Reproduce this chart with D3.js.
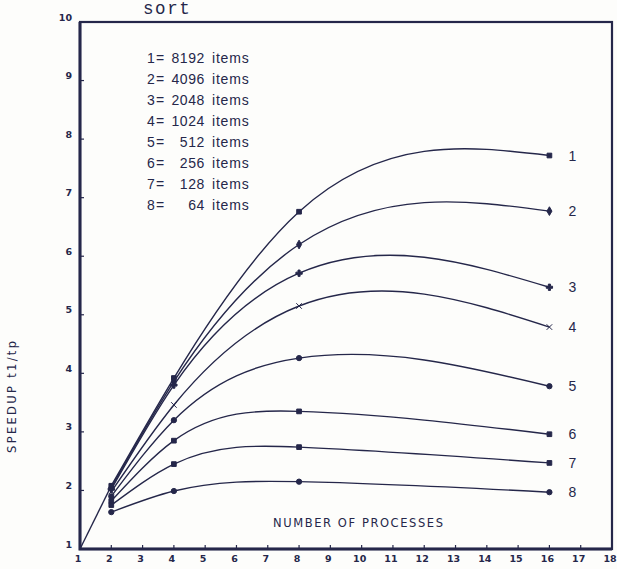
<!DOCTYPE html>
<html>
<head>
<meta charset="utf-8">
<script src="https://cdn.jsdelivr.net/npm/d3@7"></script>
<style>
  html, body { margin: 0; padding: 0; background: #fdfdfb; }
  svg { display: block; }
</style>
</head>
<body>
<svg id="chart" width="617" height="569"></svg>
<script>
// Speedup t1/tp of the sort benchmark versus number of processes
const processes = [2, 4, 8, 16];
const seriesIds = ["1", "2", "3", "4", "5", "6", "7", "8"];
const itemCounts = ["8192", "4096", "2048", "1024", "512", "256", "128", "64"];
const speedup1 = [2.08, 3.92, 6.76, 7.72];
const speedup2 = [2.05, 3.86, 6.20, 6.77];
const speedup3 = [2.02, 3.80, 5.71, 5.47];
const speedup4 = [1.98, 3.46, 5.15, 4.79];
const speedup5 = [1.90, 3.20, 4.26, 3.78];
const speedup6 = [1.82, 2.85, 3.35, 2.96];
const speedup7 = [1.75, 2.45, 2.74, 2.47];
const speedup8 = [1.63, 1.99, 2.15, 1.97];
const originPoint = [1, 1];
const xTicks = d3.range(1, 19);
const yTicks = d3.range(1, 11);

const allSpeedups = [speedup1, speedup2, speedup3, speedup4, speedup5, speedup6, speedup7, speedup8];
const markerTypes = [d3.symbolSquare, d3.symbolDiamond, d3.symbolCross, d3.symbolTimes,
                     d3.symbolCircle, d3.symbolSquare, d3.symbolSquare, d3.symbolCircle];

const ink = "#25274a";
const svg = d3.select("#chart");

const x = d3.scaleLinear().domain([1, 18]).range([80, 612]);
const y = d3.scaleLinear().domain([1, 10]).range([549, 22]);

// Natural cubic spline with y as a function of x (non-uniform knots),
// emitted as one cubic Bezier per interval.
function curveNaturalX(context) {
  let pts;
  return {
    areaStart() {}, areaEnd() {},
    lineStart() { pts = []; },
    point(px, py) { pts.push([+px, +py]); },
    lineEnd() {
      const n = pts.length;
      if (!n) return;
      context.moveTo(pts[0][0], pts[0][1]);
      if (n < 3) { for (let i = 1; i < n; i++) context.lineTo(pts[i][0], pts[i][1]); return; }
      const h = [], d = [];
      for (let i = 0; i < n - 1; i++) {
        h.push(pts[i + 1][0] - pts[i][0]);
        d.push((pts[i + 1][1] - pts[i][1]) / h[i]);
      }
      // tridiagonal solve for second derivatives, natural ends
      const M = new Array(n).fill(0);
      const a = [], b = [], c = [], r = [];
      for (let i = 1; i < n - 1; i++) {
        a.push(h[i - 1]); b.push(2 * (h[i - 1] + h[i])); c.push(h[i]);
        r.push(6 * (d[i] - d[i - 1]));
      }
      const m = b.length;
      for (let i = 1; i < m; i++) {
        const w = a[i] / b[i - 1];
        b[i] -= w * c[i - 1];
        r[i] -= w * r[i - 1];
      }
      const sol = new Array(m);
      sol[m - 1] = r[m - 1] / b[m - 1];
      for (let i = m - 2; i >= 0; i--) sol[i] = (r[i] - c[i] * sol[i + 1]) / b[i];
      for (let i = 0; i < m; i++) M[i + 1] = sol[i];
      for (let i = 0; i < n - 1; i++) {
        const s0 = d[i] - h[i] * (2 * M[i] + M[i + 1]) / 6;
        const s1 = d[i] + h[i] * (M[i] + 2 * M[i + 1]) / 6;
        const x0 = pts[i][0], y0 = pts[i][1], x1 = pts[i + 1][0], y1 = pts[i + 1][1];
        context.bezierCurveTo(x0 + h[i] / 3, y0 + s0 * h[i] / 3,
                              x1 - h[i] / 3, y1 - s1 * h[i] / 3, x1, y1);
      }
    }
  };
}

// plot frame: light top/right, heavier axes on left/bottom
svg.append("rect")
  .attr("x", x(1)).attr("y", y(10))
  .attr("width", x(18) - x(1)).attr("height", y(1) - y(10))
  .attr("fill", "none").attr("stroke", ink).attr("stroke-width", 2.2);
svg.append("path")
  .attr("d", `M${x(1)},${y(10)}V${y(1)}H${x(18)}`)
  .attr("fill", "none").attr("stroke", ink).attr("stroke-width", 3);

// inward tick marks
svg.append("g").selectAll("line").data(yTicks.slice(1, -1)).join("line")
  .attr("x1", x(1)).attr("x2", x(1) + 4)
  .attr("y1", d => y(d)).attr("y2", d => y(d))
  .attr("stroke", ink).attr("stroke-width", 1.2);
svg.append("g").selectAll("line").data(xTicks.slice(1, -1)).join("line")
  .attr("x1", d => x(d)).attr("x2", d => x(d))
  .attr("y1", y(1)).attr("y2", y(1) - 4)
  .attr("stroke", ink).attr("stroke-width", 1.2);

// tick labels
svg.append("g").selectAll("text").data(yTicks).join("text")
  .attr("x", 72).attr("y", d => y(d) - 4)
  .attr("text-anchor", "end").attr("dominant-baseline", "middle")
  .attr("font-family", "DejaVu Sans").attr("font-weight", "bold").attr("font-size", 9.5)
  .attr("fill", ink).text(d => d);
svg.append("g").selectAll("text").data(xTicks).join("text")
  .attr("x", d => x(d) - 2).attr("y", 562)
  .attr("text-anchor", "middle")
  .attr("font-family", "DejaVu Sans").attr("font-weight", "bold").attr("font-size", 9.5)
  .attr("fill", ink).text(d => d);

// title and axis titles
svg.append("text").attr("x", 143).attr("y", 14)
  .attr("font-family", "Liberation Mono").attr("font-size", 17.5)
  .attr("letter-spacing", 1.6)
  .attr("fill", ink).text("sort");
svg.append("text")
  .attr("transform", `translate(16,397) rotate(-90)`)
  .attr("text-anchor", "middle")
  .attr("font-family", "DejaVu Sans").attr("font-size", 11.5)
  .attr("textLength", 112).attr("lengthAdjust", "spacing")
  .attr("fill", ink).text("SPEEDUP t1/tp");
svg.append("text").attr("x", 273).attr("y", 527)
  .attr("font-family", "DejaVu Sans").attr("font-size", 11.5)
  .attr("textLength", 170).attr("lengthAdjust", "spacing")
  .attr("fill", ink).text("NUMBER OF PROCESSES");

// item-count key
const key = svg.append("g").attr("font-family", "Liberation Sans").attr("font-size", 14).attr("fill", ink);
seriesIds.forEach((id, i) => {
  const ty = 63 + i * 21;
  key.append("text").attr("x", 147).attr("y", ty).text(id);
  key.append("text").attr("x", 156).attr("y", ty).text("=");
  key.append("text").attr("x", 205).attr("y", ty).attr("text-anchor", "end")
    .attr("letter-spacing", 0.6).text(itemCounts[i]);
  key.append("text").attr("x", 212).attr("y", ty).attr("letter-spacing", 0.8).text("items");
});

// shared rise from one process
svg.append("line")
  .attr("x1", x(originPoint[0])).attr("y1", y(originPoint[1]))
  .attr("x2", x(processes[0])).attr("y2", y(speedup1[0]))
  .attr("stroke", ink).attr("stroke-width", 1.4);

const line = d3.line().x(d => x(d[0])).y(d => y(d[1])).curve(curveNaturalX);

allSpeedups.forEach((vals, i) => {
  const pts = processes.map((p, j) => [p, vals[j]]);
  svg.append("path").attr("d", line(pts))
    .attr("fill", "none").attr("stroke", ink).attr("stroke-width", 1.4);
  const sym = d3.symbol().type(markerTypes[i]).size(22);
  svg.append("g").selectAll("path").data(pts).join("path")
    .attr("transform", d => `translate(${x(d[0])},${y(d[1])})`)
    .attr("d", sym)
    .attr("fill", ink).attr("stroke", ink).attr("stroke-width", 1);
  const last = pts[pts.length - 1];
  svg.append("text")
    .attr("x", x(last[0]) + 19).attr("y", y(last[1]))
    .attr("dominant-baseline", "central")
    .attr("font-family", "Liberation Sans").attr("font-size", 14)
    .attr("fill", ink).text(seriesIds[i]);
});
</script>
</body>
</html>
